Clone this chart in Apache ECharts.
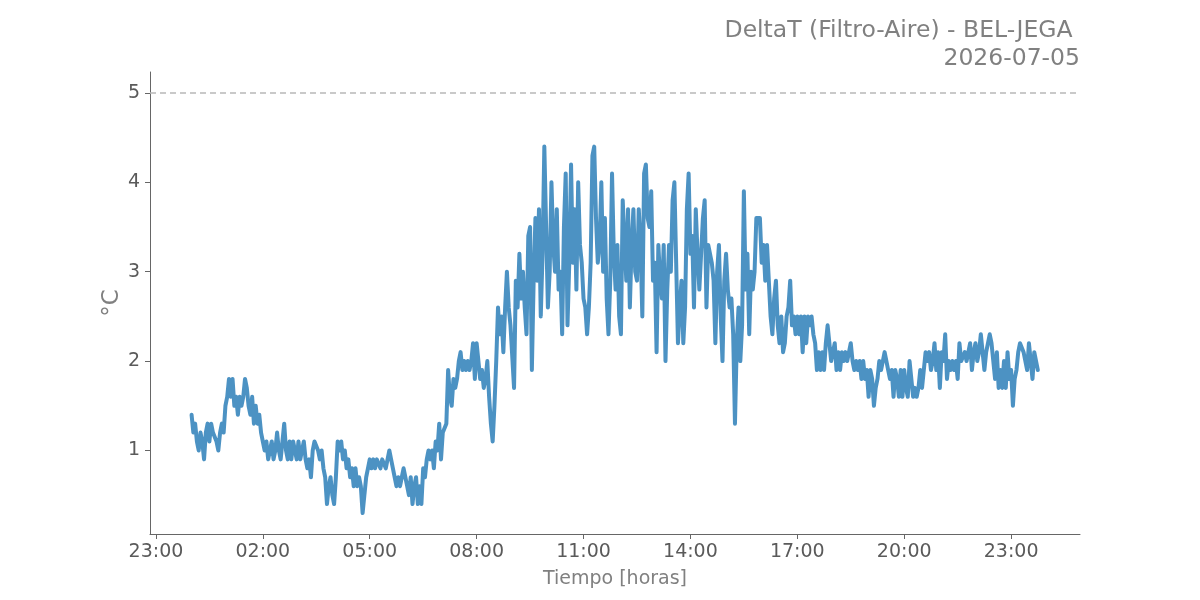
<!DOCTYPE html>
<html>
<head>
<meta charset="utf-8">
<script src="https://cdn.jsdelivr.net/npm/echarts@6/dist/echarts.min.js"></script>
<style>
html,body{margin:0;padding:0;background:#fff;}
#chart{width:1200px;height:600px;}
</style>
</head>
<body>
<div id="chart"></div>
<script>
// Sampling of the series: minutes after 00:00 of 2026-07-05
const startMinute = 0;
const stepMinutes = 3;

const valuesNight = [
  1.4,1.2,1.3,1.1,1.0,1.2,1.1,0.9,1.2,1.3,
  1.1,1.3,1.2,1.2,1.1,1.0,1.2,1.3,1.2,1.5,
  1.6,1.8,1.6,1.8,1.5,1.6,1.4,1.6,1.5,1.6,
  1.8,1.7,1.5,1.4,1.6,1.3,1.5,1.3,1.4,1.2,
  1.1,1.0,1.1,0.9,1.0,1.1,0.9,1.0,1.2,1.0,
  0.9,1.1,1.3,1.0,0.9,1.1,0.9,1.1,1.0,0.9,
  1.1,0.9,1.0,1.1,0.9,0.8,0.9,0.7,1.0,1.1,
  1.1,1.0,0.9,1.0,0.8,0.7,0.4,0.6,0.7,0.5,
  0.4,0.7,1.1,1.0,1.1,0.9,1.0,0.8,0.9,0.7,
  0.8,0.6,0.8,0.6,0.7,0.6,0.3,0.5,0.7,0.8,
  0.9,0.8,0.9,0.8,0.9,0.9,0.8,0.9,0.9,0.8,
  0.9,1.0,0.9,0.8,0.7,0.6,0.7,0.6,0.7,0.8
];
const valuesMorning = [
  0.7,0.6,0.5,0.7,0.4,0.6,0.7,0.4,0.6,0.4,
  0.8,0.7,0.9,1.0,0.9,1.0,0.8,1.1,1.0,1.3,
  0.9,1.2,1.2,1.3,1.9,1.6,1.5,1.8,1.7,1.8,
  2.0,2.1,1.9,2.0,1.9,2.0,1.9,2.0,2.2,1.8,
  2.2,2.2,1.8,1.9,1.7,1.8,2.0,1.6,1.3,1.1,
  1.5,2.0,2.6,2.3,2.5,2.1,2.6,3.0,2.6,2.4
];
const valuesMidday = [
  2.4,1.7,2.9,2.6,3.2,2.7,3.0,2.6,2.3,3.4,
  3.5,1.9,2.9,3.6,2.9,3.7,2.5,3.2,4.4,3.5,
  2.6,3.0,4.0,3.3,3.0,3.7,2.8,3.0,2.3,3.5,
  4.1,2.4,3.1,4.2,3.1,3.7,2.8,4.0,3.3,3.1,
  2.7,2.6,2.3,2.6,3.1,4.3,4.4,3.6,3.1,3.3,
  4.0,3.0,3.6,2.7,2.3,2.9,4.1,3.2,2.8,3.3,
  2.5,2.3,3.8,3.8,2.9,3.7,2.6,3.3,3.7,3.0,
  2.9,3.7,3.3,2.5,4.1,4.2,3.6,3.5,3.9,2.9,
  3.1,2.1,3.3,2.9,2.7,3.3,2.0,2.8,3.3,3.0,
  3.8,4.0,3.1,2.2,2.6,2.9,2.2,2.6,3.7,4.1,
  3.2,3.4,2.6,3.7,3.2,2.8,3.2,3.6,3.8,2.6,
  3.3,3.3,3.1,2.9,2.2,3.0,3.3,2.5,2.0,2.9,
  3.2,2.8,2.6,2.7,2.3,1.3,2.2,2.6,2.0,2.4
];
const valuesAfternoon = [
  3.9,2.8,3.2,2.3,3.0,2.8,3.0,3.6,3.6,3.6,
  3.1,3.3,2.9,3.3,2.9,2.5,2.3,2.7,2.9,2.4,
  2.2,2.5,2.1,2.2,2.5,2.6,2.9,2.4,2.5,2.3,
  2.5,2.3,2.5,2.1,2.5,2.2,2.5,2.4,2.5,2.3,
  2.2,1.9,2.1,1.9,2.1,1.9,2.2,2.4,2.2,2.0,
  2.1,2.2,1.9,2.1,1.9,2.1,2.0,2.1,2.0,2.0
];
const valuesEvening = [
  2.2,2.0,1.9,2.0,1.9,2.0,1.8,2.0,1.8,1.9,
  1.6,1.9,1.8,1.5,1.7,1.8,2.0,1.9,2.0,2.1,
  2.0,1.9,1.8,1.9,1.6,1.9,1.8,1.6,1.9,1.6,
  1.9,1.7,1.6,2.0,1.8,1.6,1.7,1.6,1.7,1.9,
  1.7,1.9,2.1,2.0,2.1,1.9,2.0,2.2,1.9,2.1,
  1.7,2.1,2.0,2.3,1.8,2.0,1.9,2.0,1.9,2.0,
  1.8,2.2,2.0,2.0,2.1,2.0,2.0,2.2,1.9,2.1,
  2.2,2.0,2.1,2.3,2.3,1.9,2.1,2.1,2.3,2.2,
  2.0,1.8,2.1,1.7,1.9,1.7,2.0,1.7,2.1,1.8,
  1.9,1.5,1.8,1.9,2.1,2.2,2.2,2.1,2.0,1.9,
  2.2,2.0,1.8,2.1,2.0,1.9
];

const thresholdValue = 5;
// tick positions in minutes relative to 00:00 (23:00 of the previous day = -60)
const xTickMinutes = [-60,120,300,480,660,840,1020,1200,1380];
const yTickValues = [1,2,3,4,5];

const allValues = [].concat(valuesNight, valuesMorning, valuesMidday, valuesAfternoon, valuesEvening);
const seriesData = allValues.map((v,i)=>[startMinute + i*stepMinutes, v]);

function pad(n){return (n<10?'0':'')+n;}
function fmtTime(v){
  const m = ((Math.round(v) % 1440) + 1440) % 1440;
  return pad(Math.floor(m/60)) + ':' + pad(m%60);
}

const chart = echarts.init(document.getElementById('chart'), null, {renderer:'canvas'});
const axisColor = '#666666';
const labelColor = '#5a5a5a';
const nameColor = '#808080';
const font = 'DejaVu Sans';

chart.setOption({
  animation:false,
  backgroundColor:'#ffffff',
  title:{
    text:'DeltaT (Filtro-Aire) - BEL-JEGA \n2026-07-05',
    left:1075, top:12, textAlign:'right',
    textStyle:{fontFamily:font, fontSize:23.5, fontWeight:'normal', color:'#808080', lineHeight:28, align:'right'}
  },
  grid:{left:150, right:120, top:72, bottom:66},
  xAxis:{
    type:'value', min:-70, max:1496,
    name:'Tiempo [horas]', nameLocation:'middle', nameGap:36, nameMoveOverlap:false,
    nameTextStyle:{fontFamily:font, fontSize:19, color:nameColor},
    axisLine:{onZero:false, lineStyle:{color:axisColor, width:1}},
    axisTick:{show:true, length:5, customValues:xTickMinutes, lineStyle:{color:axisColor}},
    axisLabel:{customValues:xTickMinutes, formatter:fmtTime, fontFamily:font, fontSize:19, color:labelColor, margin:9},
    splitLine:{show:false}
  },
  yAxis:{
    type:'value', min:0.065, max:5.235,
    name:'°C', nameLocation:'middle', nameGap:26, nameRotate:90, nameMoveOverlap:false,
    nameTextStyle:{fontFamily:font, fontSize:23, color:nameColor},
    axisLine:{show:true, onZero:false, lineStyle:{color:axisColor, width:1}},
    axisTick:{show:true, length:5, customValues:yTickValues, lineStyle:{color:axisColor}},
    axisLabel:{customValues:yTickValues, fontFamily:font, fontSize:19, color:labelColor, margin:10},
    splitLine:{show:false}
  },
  series:[{
    type:'line',
    data:seriesData,
    showSymbol:false,
    symbol:'none',
    lineStyle:{color:'#1f77b4', width:4, opacity:0.8, join:'round', cap:'round'},
    itemStyle:{color:'#1f77b4'},
    markLine:{
      silent:true, symbol:['none','none'],
      label:{show:false},
      lineStyle:{type:[6,4], color:'#b8b8b8', width:1.5},
      data:[{yAxis:thresholdValue}]
    }
  }]
});
</script>
</body>
</html>
